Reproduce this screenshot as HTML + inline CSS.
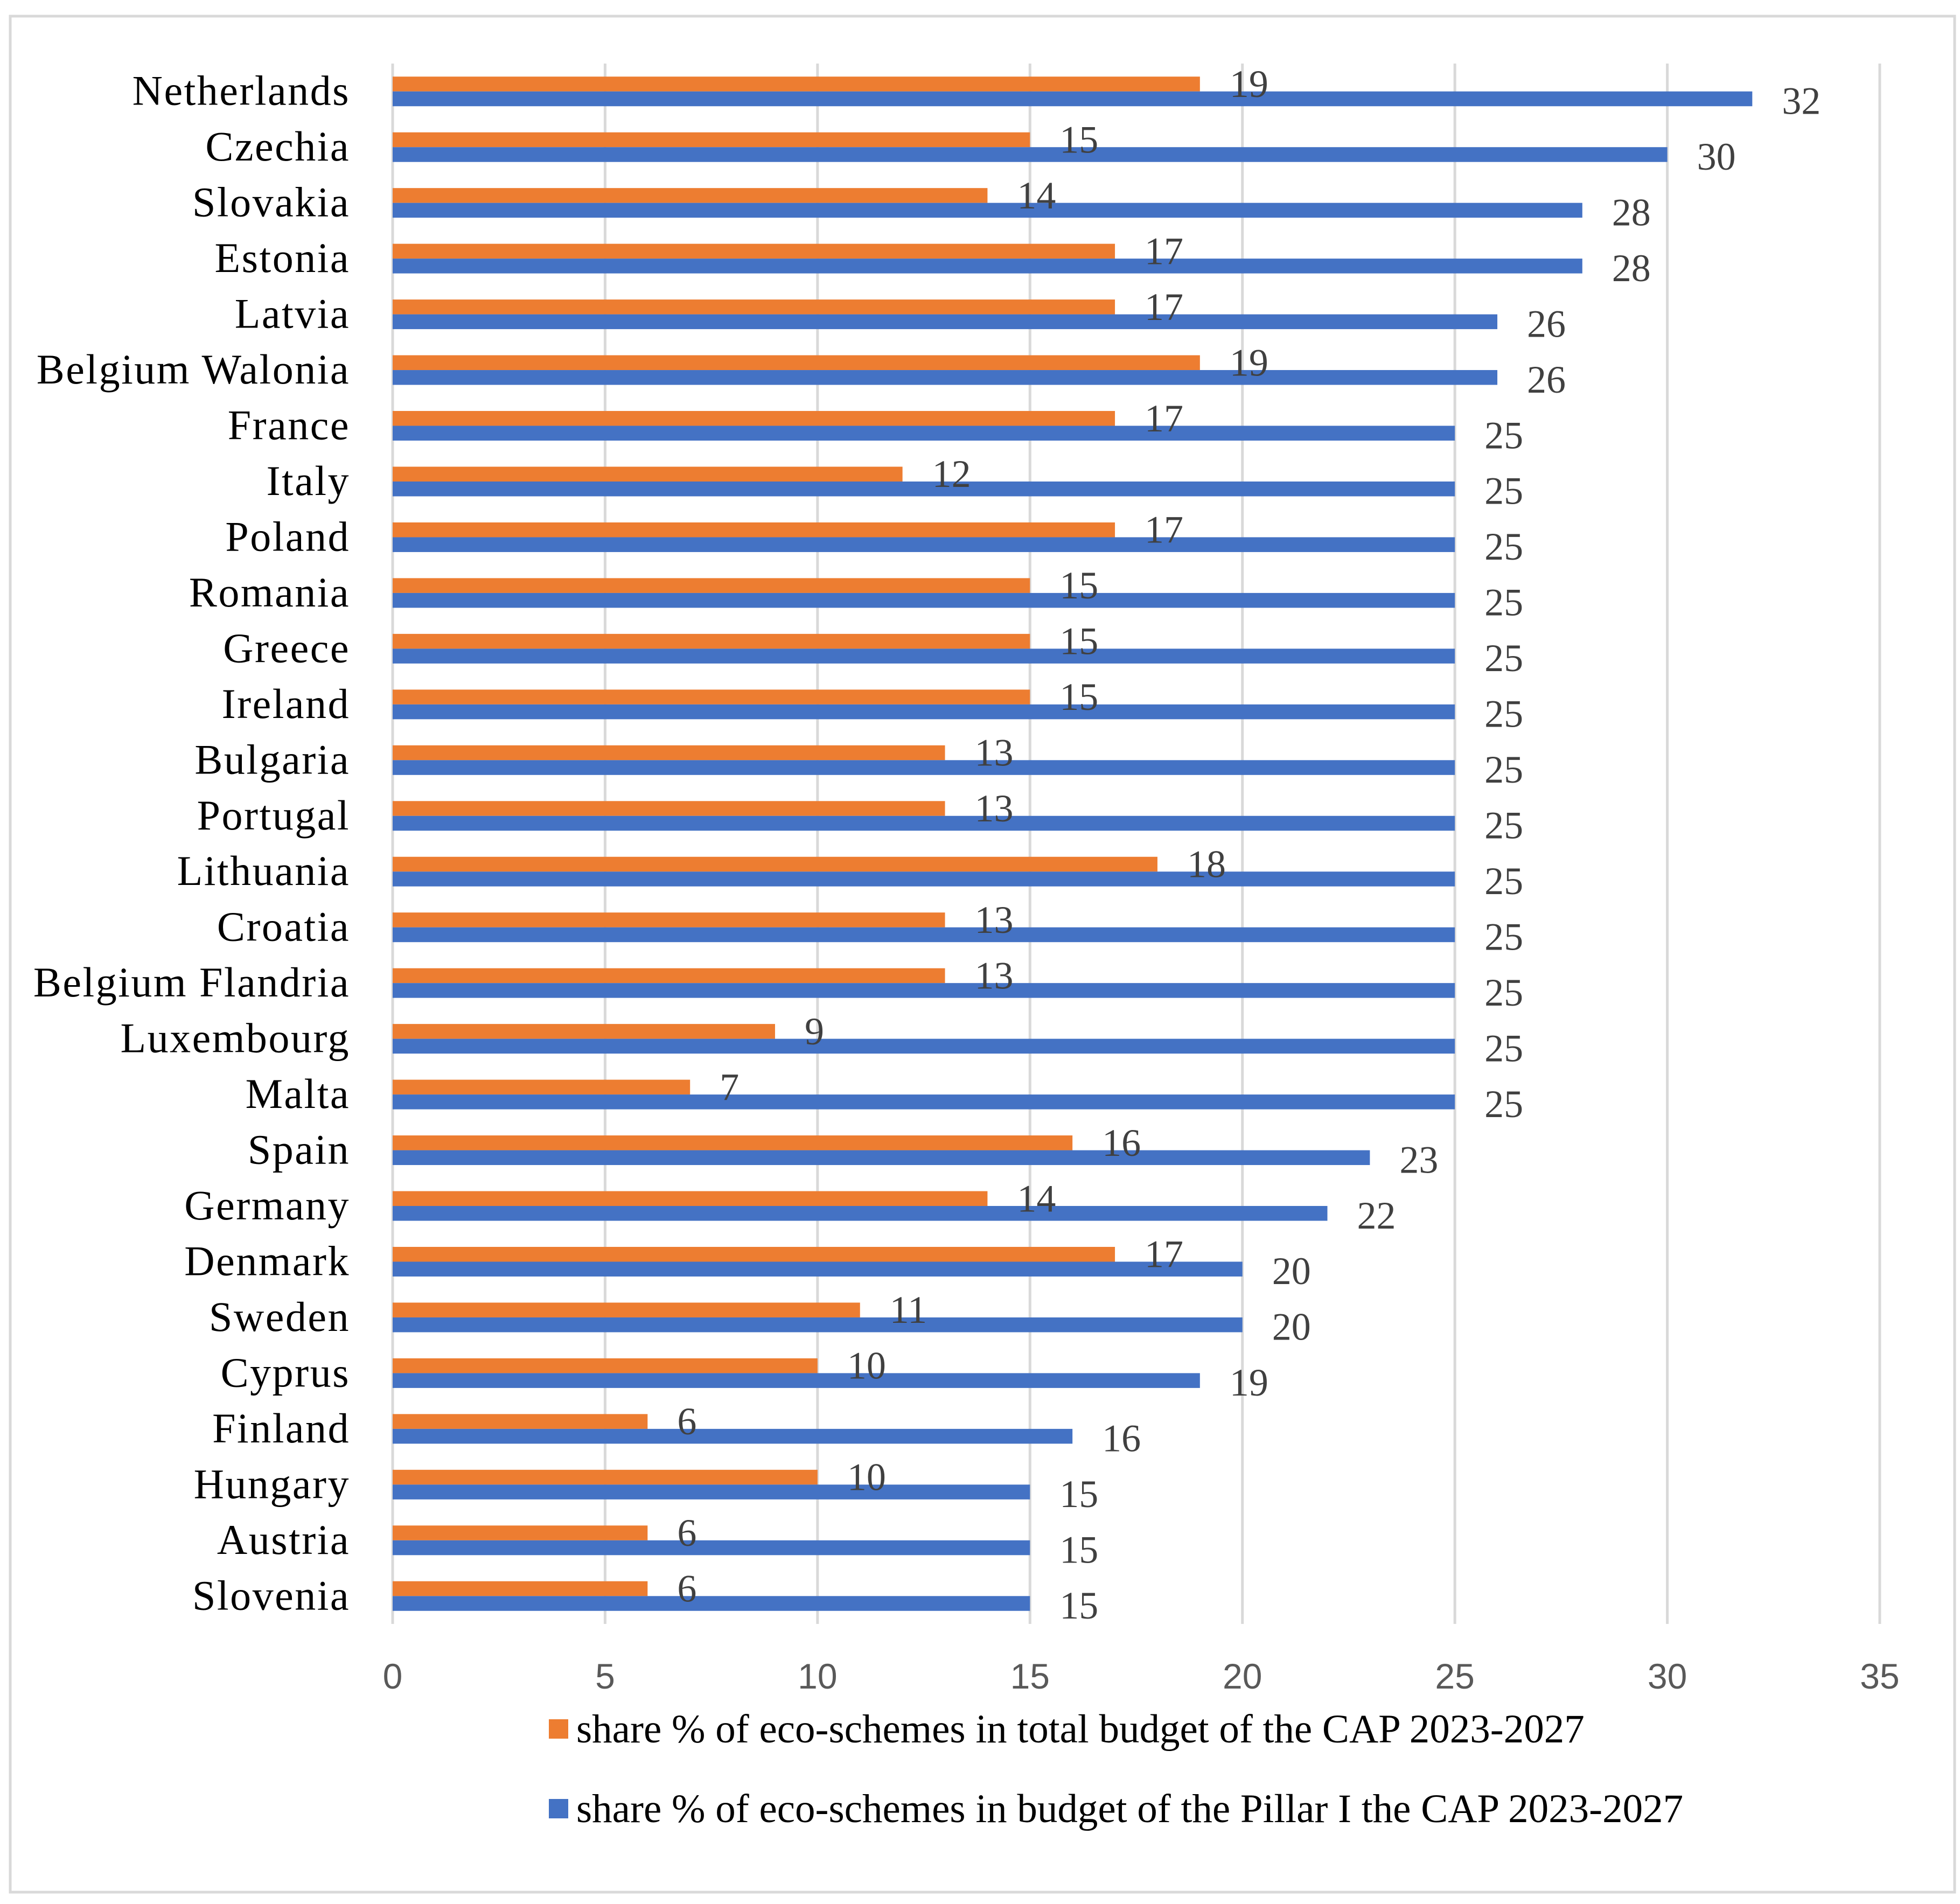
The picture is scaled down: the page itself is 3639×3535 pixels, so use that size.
<!DOCTYPE html>
<html><head><meta charset="utf-8">
<style>
html,body{margin:0;padding:0;background:#fff;}
svg{display:block;}
</style></head>
<body>
<svg id="chart" width="3639" height="3535" viewBox="0 0 3639 3535" xmlns="http://www.w3.org/2000/svg">
  <rect x="19" y="30" width="3610" height="3483" fill="#fff" stroke="#d9d9d9" stroke-width="5"/>
  <g id="grid"></g>
  <g id="bars"></g>
  <g id="labels"></g>
  <g id="ticks"></g>
  <g>
    <rect x="1019" y="3192" width="36" height="36" fill="#ed7d31"/>
    <text x="1070" y="3235" font-family="Liberation Serif, serif" font-size="75" fill="#000">share % of eco-schemes in total budget of the CAP 2023-2027</text>
    <rect x="1019" y="3340" width="36" height="36" fill="#4472c4"/>
    <text x="1070" y="3383" font-family="Liberation Serif, serif" font-size="75" fill="#000">share % of eco-schemes in budget of the Pillar I the CAP 2023-2027</text>
  </g>
</svg>
<script>
const countries = ["Netherlands","Czechia","Slovakia","Estonia","Latvia","Belgium Walonia","France","Italy","Poland","Romania","Greece","Ireland","Bulgaria","Portugal","Lithuania","Croatia","Belgium Flandria","Luxembourg","Malta","Spain","Germany","Denmark","Sweden","Cyprus","Finland","Hungary","Austria","Slovenia"];
const totalShare = [19,15,14,17,17,19,17,12,17,15,15,15,13,13,18,13,13,9,7,16,14,17,11,10,6,10,6,6];
const pillarShare = [32,30,28,28,26,26,25,25,25,25,25,25,25,25,25,25,25,25,25,23,22,20,20,19,16,15,15,15];
const xTicks = [0,5,10,15,20,25,30,35];

const NS = "http://www.w3.org/2000/svg";
const X0 = 729, X1 = 3490, XMAX = 35;
const Y0 = 118, Y1 = 3015;
const band = (Y1 - Y0) / countries.length;
const barH = 27.5;
function xs(v){ return X0 + (X1 - X0) * v / XMAX; }
function yBand(i){ return Y0 + band * i; }
function mk(tag, attrs, parent){
  const e = document.createElementNS(NS, tag);
  for (const k in attrs) e.setAttribute(k, attrs[k]);
  parent.appendChild(e);
  return e;
}
const grid = document.getElementById('grid');
const bars = document.getElementById('bars');
const labels = document.getElementById('labels');
const ticks = document.getElementById('ticks');

xTicks.forEach(t => {
  const l = mk('line', {x1: xs(t), x2: xs(t), y1: Y0, y2: Y1, stroke: '#d9d9d9', 'stroke-width': 5}, grid);
  
  
  const tx = mk('text', {x: xs(t), y: 3135, 'text-anchor': 'middle', 'font-family': 'Liberation Sans, sans-serif', 'font-size': 66, fill: '#595959'}, ticks);
  tx.textContent = t;
  
  
});

countries.forEach((c, i) => {
  const top = yBand(i) + band / 2 - barH;
  const cl = mk('text', {x: 650, y: yBand(i) + band / 2 + 25, 'text-anchor': 'end', 'font-family': 'Liberation Serif, serif', 'font-size': 78, 'letter-spacing': 2.5, fill: '#000'}, labels);
  cl.textContent = c;
  
  

  const ob = mk('rect', {x: xs(0), y: top, width: xs(totalShare[i]) - xs(0), height: barH, fill: '#ed7d31'}, bars);
  
  
  const bb = mk('rect', {x: xs(0), y: top + barH, width: xs(pillarShare[i]) - xs(0), height: barH, fill: '#4472c4'}, bars);
  
  

  const ol = mk('text', {x: xs(totalShare[i]) + 55, y: top + barH / 2 + 24, 'font-family': 'Liberation Serif, serif', 'font-size': 72, fill: '#404040'}, labels);
  ol.textContent = totalShare[i];
  
  
  const bl = mk('text', {x: xs(pillarShare[i]) + 55, y: top + barH * 1.5 + 28, 'font-family': 'Liberation Serif, serif', 'font-size': 72, fill: '#404040'}, labels);
  bl.textContent = pillarShare[i];
  
  
});
</script>
</body></html>
